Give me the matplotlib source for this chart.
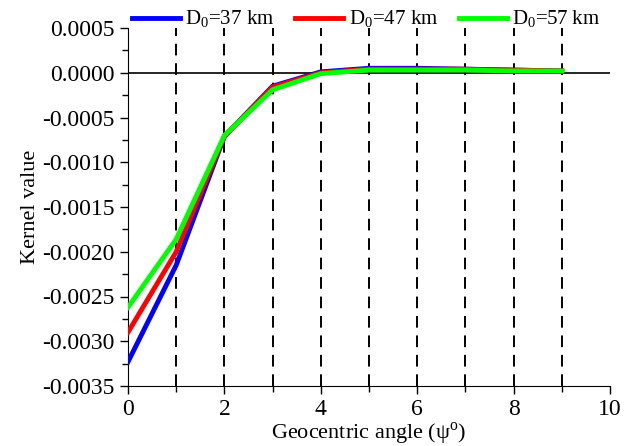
import matplotlib.pyplot as plt
from matplotlib.ticker import MultipleLocator

plt.rcParams['font.family'] = ['Liberation Serif', 'DejaVu Serif']
plt.rcParams['mathtext.fontset'] = 'custom'
plt.rcParams['mathtext.rm'] = 'Liberation Serif'
plt.rcParams['axes.unicode_minus'] = False

x = [0, 1, 2, 3, 4, 5, 6, 7, 8, 9]
k37 = [-0.00323, -0.00215, -0.00071, -0.00015, 0.00001, 0.00005, 0.00005, 0.00004, 0.00003, 0.00002]
k47 = [-0.00290, -0.00200, -0.00071, -0.00016, 0.00000, 0.00004, 0.00004, 0.00004, 0.00003, 0.00002]
k57 = [-0.00262, -0.00186, -0.00070, -0.00019, -0.00001, 0.00003, 0.00003, 0.00003, 0.00002, 0.00002]
labels = ['D$_0$=37 km', 'D$_0$=47 km', 'D$_0$=57 km']

fig = plt.figure(figsize=(6.32, 4.46), dpi=100)
ax = fig.add_axes([128/632, 60/446, 482/632, 358/446])

for xv in range(1, 10):
    ax.plot([xv, xv], [-0.0035, 0.0005], color='black', linestyle=(0, (6, 4)), linewidth=1.4, zorder=1)
ax.axhline(0, color='black', linewidth=1.2, zorder=2)

ax.plot(x, k37, color='#0000ff', linewidth=3.5, label=labels[0], zorder=3)
ax.plot(x, k47, color='#ff0000', linewidth=3.5, label=labels[1], zorder=4)
ax.plot(x, k57, color='#00ff00', linewidth=3.5, label=labels[2], zorder=5)

ax.set_xlim(0, 10)
ax.set_ylim(-0.0035, 0.0005)
ax.xaxis.set_major_locator(MultipleLocator(2))
ax.xaxis.set_minor_locator(MultipleLocator(1))
ax.yaxis.set_major_locator(MultipleLocator(0.0005))
ax.yaxis.set_minor_locator(MultipleLocator(0.00025))
ax.yaxis.set_major_formatter(plt.FuncFormatter(lambda v, p: '%.4f' % v))
ax.tick_params(axis='both', which='major', direction='out', length=6, width=1, labelsize=17)
ax.tick_params(axis='both', which='minor', direction='out', length=4, width=1)
ax.spines['top'].set_visible(False)
ax.spines['right'].set_visible(False)

ax.set_xlabel('Geocentric angle (ψ$^{\\rm o}$)', fontsize=16, labelpad=0)
ax.set_ylabel('Kernel value', fontsize=16, labelpad=2)

ax.legend(loc='upper left', bbox_to_anchor=(0.0, 1.065), ncol=3, frameon=False,
          fontsize=15, handlelength=2.3, columnspacing=1.0, handletextpad=0.25,
          borderaxespad=0, borderpad=0.2)

fig.savefig('out.png', dpi=100)
